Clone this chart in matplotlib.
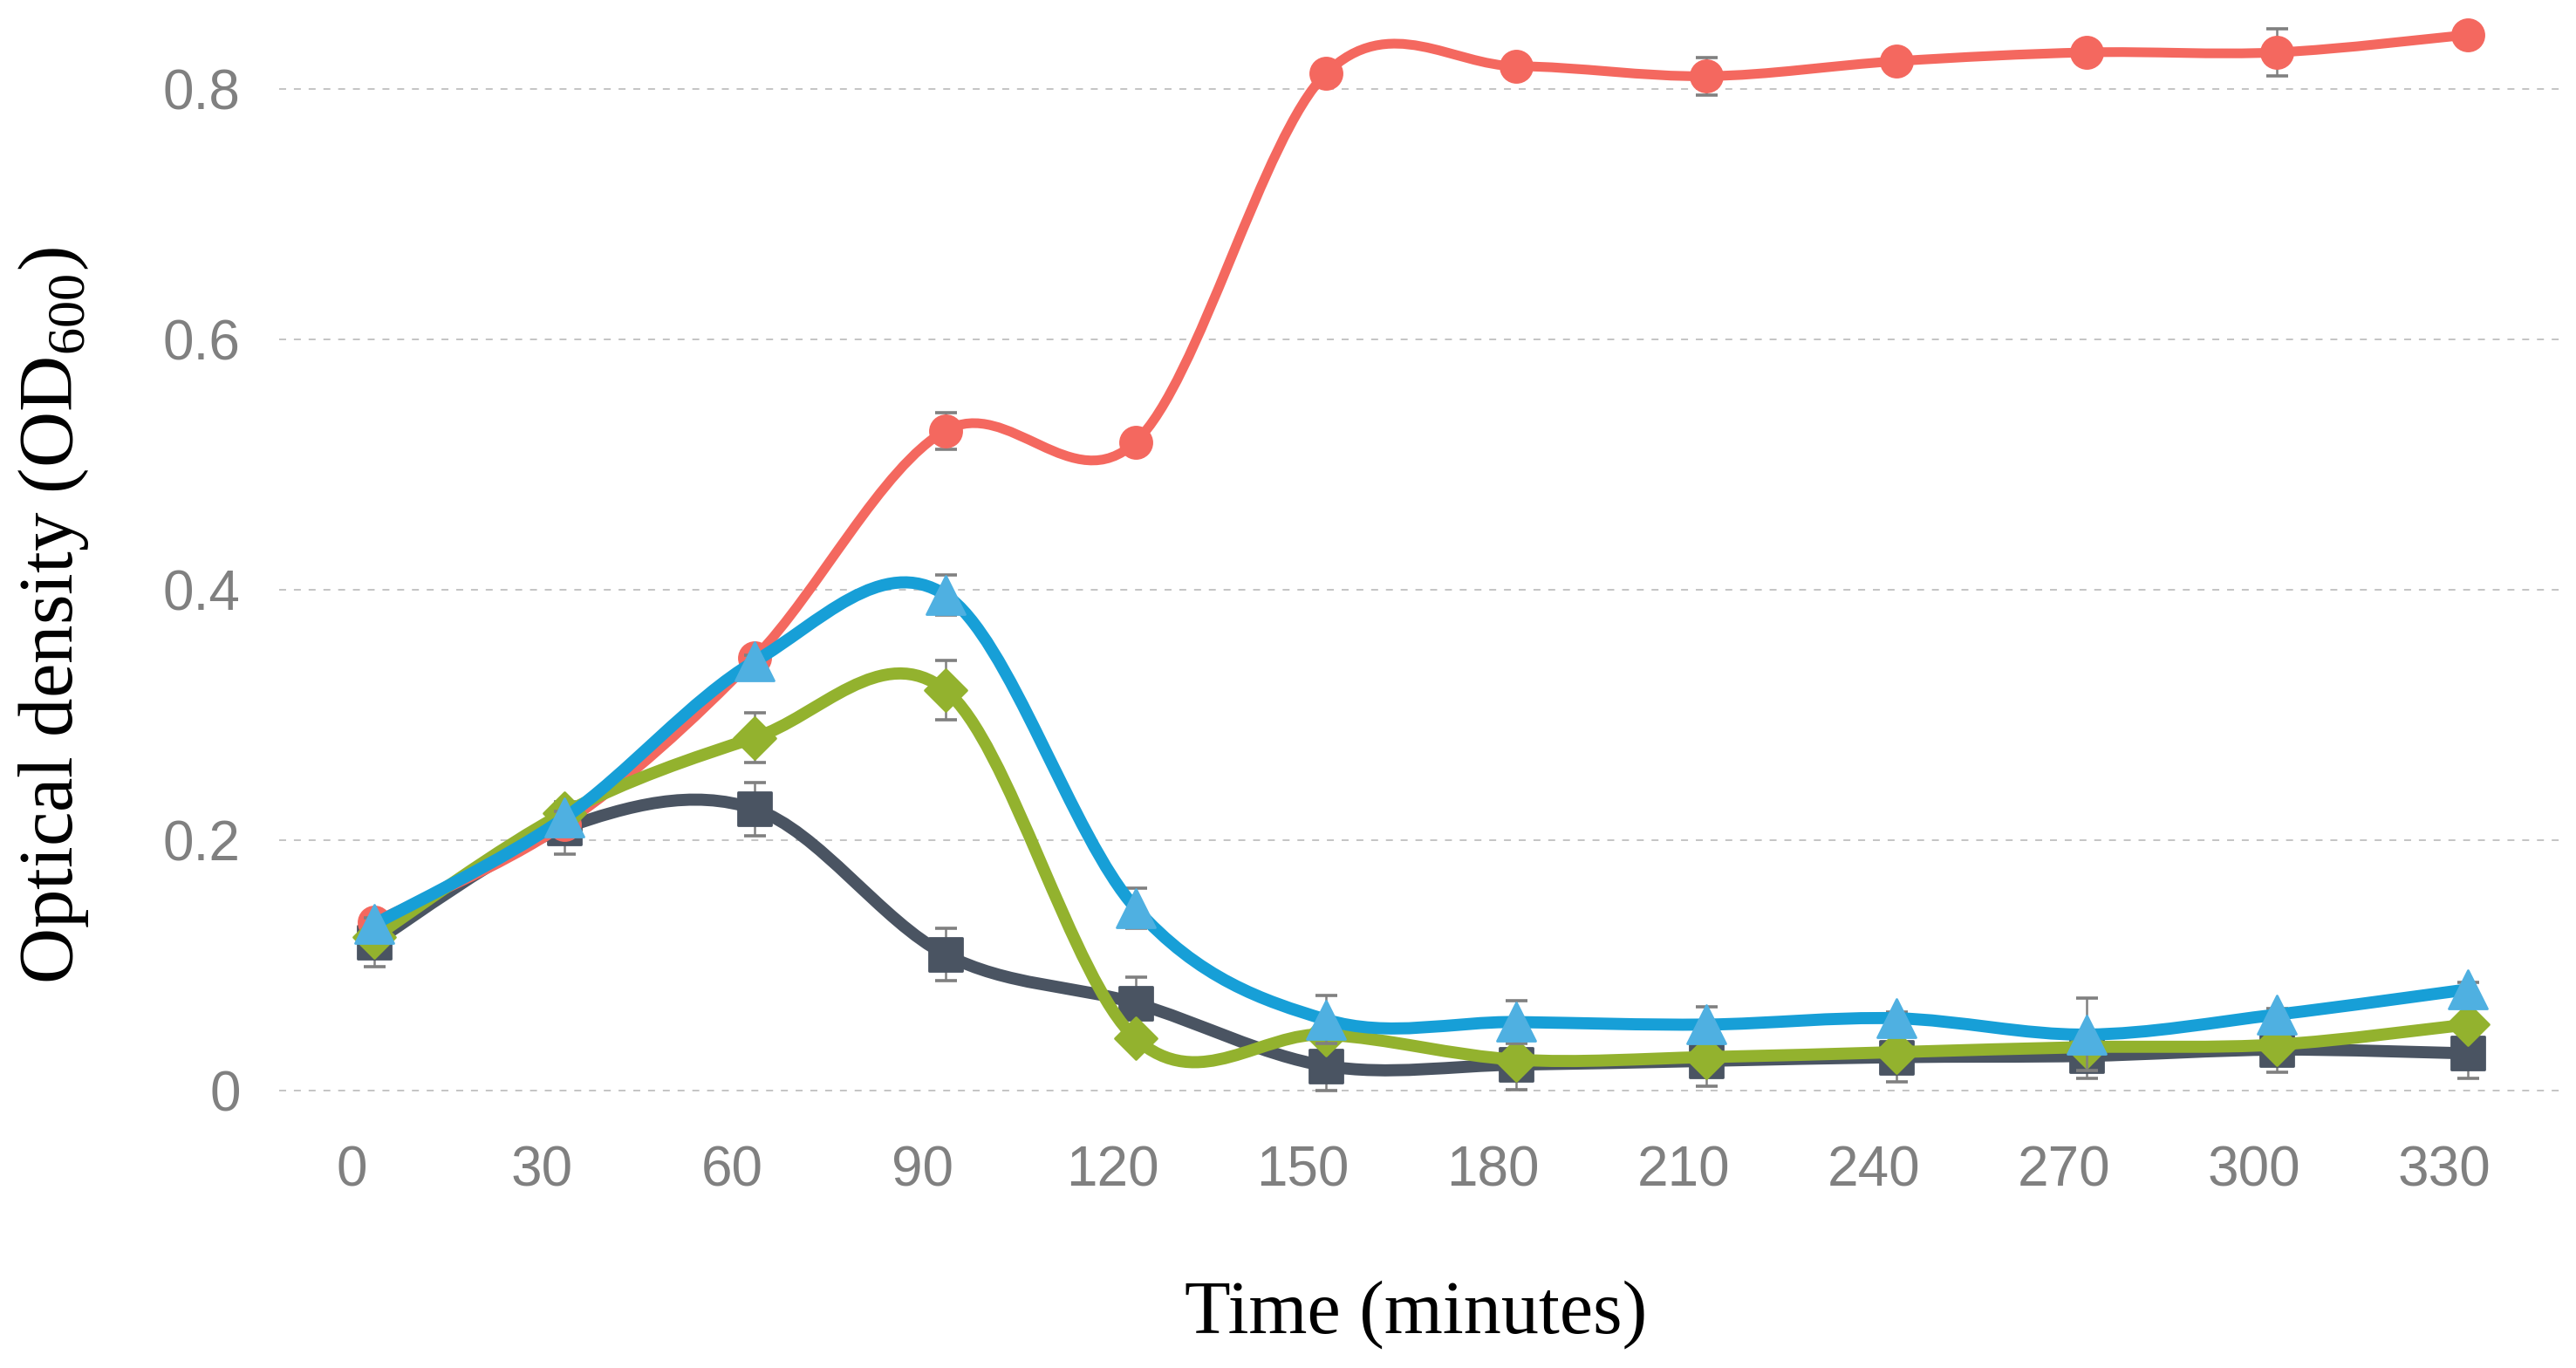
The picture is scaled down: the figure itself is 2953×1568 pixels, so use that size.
import numpy as np
import matplotlib.pyplot as plt
from matplotlib.path import Path
from matplotlib.patches import PathPatch
from matplotlib.markers import MarkerStyle

plt.rcParams['font.family'] = ['Liberation Sans', 'DejaVu Sans']
plt.rcParams['mathtext.fontset'] = 'custom'
plt.rcParams['mathtext.rm'] = 'Liberation Serif'

# time points (minutes) and OD600 readings
time_min = [0, 30, 60, 90, 120, 150, 180, 210, 240, 270, 300, 330]

od_red = [0.135, 0.213, 0.346, 0.527, 0.518, 0.812, 0.818, 0.810, 0.822, 0.829, 0.829, 0.843]
err_red = [0.005, 0.005, 0.005, 0.0145, 0.005, 0.005, 0.005, 0.015, 0.005, 0.005, 0.019, 0.005]

od_dark = [0.119, 0.210, 0.225, 0.109, 0.070, 0.020, 0.021, 0.024, 0.027, 0.028, 0.033, 0.030]
err_dark = [0.02, 0.021, 0.021, 0.021, 0.021, 0.02, 0.02, 0.02, 0.02, 0.018, 0.018, 0.02]

od_green = [0.123, 0.222, 0.282, 0.320, 0.042, 0.045, 0.025, 0.027, 0.031, 0.035, 0.037, 0.053]
err_green = [0.005, 0.005, 0.02, 0.0235, 0.005, 0.005, 0.005, 0.005, 0.005, 0.005, 0.005, 0.005]

od_blue = [0.133, 0.218, 0.343, 0.396, 0.146, 0.057, 0.055, 0.053, 0.058, 0.045, 0.061, 0.081]
err_blue = [0.005, 0.005, 0.005, 0.016, 0.016, 0.019, 0.017, 0.014, 0.005, 0.029, 0.005, 0.006]

yticks = [0, 0.2, 0.4, 0.6, 0.8]
ytick_labels = ['0', '0.2', '0.4', '0.6', '0.8']


def smooth_path(x, y):
    # Excel-style smoothed line: cubic Bezier through each point (Catmull-Rom)
    pts = np.column_stack([x, y]).astype(float)
    n = len(pts)
    verts = [pts[0]]
    codes = [Path.MOVETO]
    for i in range(n - 1):
        p0 = pts[max(i - 1, 0)]
        p1 = pts[i]
        p2 = pts[i + 1]
        p3 = pts[min(i + 2, n - 1)]
        verts += [p1 + (p2 - p0) / 6.0, p2 - (p3 - p1) / 6.0, p2]
        codes += [Path.CURVE4] * 3
    return Path(verts, codes)


fig = plt.figure(figsize=(14.765, 7.84), dpi=200)
ax = fig.add_axes([0.1084, 0.1842, 0.8864, 0.8059])

xpos = np.arange(len(time_min))

# (values, errors, line colour, marker, marker colour, marker size, line width, zorder)
series = [
    (od_dark, err_dark, '#4a5462', 's', '#4a5462', 13.5, 5.0, 2),
    (od_red, err_red, '#f4685f', 'o', '#f4685f', 13.0, 4.0, 3),
    (od_green, err_green, '#93b22e', 'D', '#93b22e', 12.0, 5.0, 4),
    (od_blue, err_blue, '#179fd7', '^', '#4fb0e1', 15.5, 5.0, 5),
]

for vals, errs, lc, mk, mc, ms, lw, z in series:
    ax.errorbar(xpos, vals, yerr=errs, fmt='none', ecolor='#808080',
                elinewidth=0.9, capsize=4.5, capthick=1.3, zorder=z - 0.1,
                clip_on=False)
    ax.add_patch(PathPatch(smooth_path(xpos, vals), fill=False, edgecolor=lc,
                           lw=lw, capstyle='round', joinstyle='round',
                           zorder=z, clip_on=False))
    ax.plot(xpos, vals, linestyle='none',
            marker=MarkerStyle(mk, joinstyle='round'), markersize=ms,
            markerfacecolor=mc, markeredgecolor=mc, markeredgewidth=1.0,
            zorder=z + 0.05, clip_on=False)

ax.set_xlim(-0.5, 11.5)
ax.set_ylim(-0.02, 0.86)

ax.set_yticks(yticks)
ax.set_yticklabels(ytick_labels)
ax.set_xticks(xpos - 0.12)
ax.set_xticklabels([str(t) for t in time_min])
ax.tick_params(axis='both', length=0, labelsize=23, labelcolor='#808080')
ax.tick_params(axis='x', pad=12)
ax.tick_params(axis='y', pad=16)

ax.yaxis.grid(True, color='#c4c4c4', lw=0.7, linestyle=(0, (4.1, 4.6)))
ax.set_axisbelow(True)
for sp in ax.spines.values():
    sp.set_visible(False)

fig.text(1623 / 2953, 1 - 1507 / 1568, 'Time (minutes)', family='Liberation Serif',
         fontsize=31, color='black', ha='center', va='center')
fig.text(62 / 2953, 1 - 706 / 1568, 'Optical density (OD$_{600}$)', family='Liberation Serif',
         fontsize=32, color='black', ha='center', va='center', rotation=90)

fig.savefig('out.png', dpi=200, facecolor='white')
